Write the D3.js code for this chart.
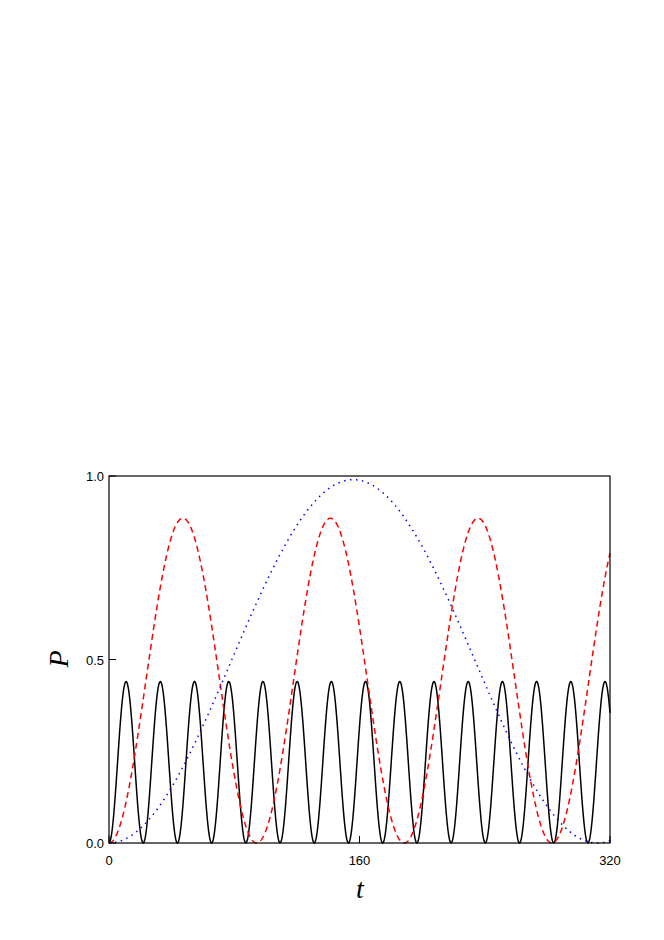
<!DOCTYPE html>
<html><head><meta charset="utf-8">
<script src="https://cdn.jsdelivr.net/npm/d3@7"></script>
<style>body{margin:0;background:#fff}</style></head>
<body><svg id="c" width="664" height="940"></svg>
<script>
const xTicks = [0, 160, 320];
const yTicks = [0.0, 0.5, 1.0];
const seriesNames = ["black", "red", "blue"];
const amplitudes = [0.44, 0.885, 0.99];
const periods = [21.85, 94.3, 312];
const colors = ["#000", "#f00", "#00f"];
const dashes = [null, "6,4", "1.5,4.5"];

const svg = d3.select("#c");
const L = 109, R = 610, T = 476, B = 843;
const x = d3.scaleLinear().domain([0, 320]).range([L, R]);
const y = d3.scaleLinear().domain([0, 1]).range([B, T]);

seriesNames.forEach((n, i) => {
  const pts = d3.range(0, 320.01, 0.25).map(t => [t, amplitudes[i] * Math.pow(Math.sin(Math.PI * t / periods[i]), 2)]);
  svg.append("path").attr("d", d3.line().x(d => x(d[0])).y(d => y(d[1]))(pts))
    .attr("fill", "none").attr("stroke", colors[i]).attr("stroke-width", 1.5)
    .attr("stroke-dasharray", dashes[i]);
});

svg.append("rect").attr("x", L).attr("y", T).attr("width", R - L).attr("height", B - T)
  .attr("fill", "none").attr("stroke", "#000").attr("stroke-width", 1.2);

const fmt = d3.format(".1f");
xTicks.forEach(t => {
  svg.append("line").attr("x1", x(t)).attr("x2", x(t)).attr("y1", B).attr("y2", B - 7).attr("stroke", "#000");
  svg.append("text").attr("x", x(t)).attr("y", B + 22).attr("text-anchor", "middle")
    .attr("font-family", "Arial, Liberation Sans, sans-serif").attr("font-size", 13).text(t);
});
yTicks.forEach(v => {
  svg.append("line").attr("x1", L).attr("x2", L + 7).attr("y1", y(v)).attr("y2", y(v)).attr("stroke", "#000");
  svg.append("text").attr("x", L - 5).attr("y", y(v) + 5).attr("text-anchor", "end")
    .attr("font-family", "Arial, Liberation Sans, sans-serif").attr("font-size", 13).text(fmt(v));
});
svg.append("text").attr("x", 360).attr("y", 898).attr("text-anchor", "middle")
  .attr("font-family", "Liberation Serif, serif").attr("font-style", "italic").attr("font-size", 28).text("t");
svg.append("text").attr("x", 68).attr("y", 659).attr("text-anchor", "middle")
  .attr("transform", "rotate(-90,68,659)")
  .attr("font-family", "Liberation Serif, serif").attr("font-style", "italic").attr("font-size", 28).text("P");
</script></body></html>
